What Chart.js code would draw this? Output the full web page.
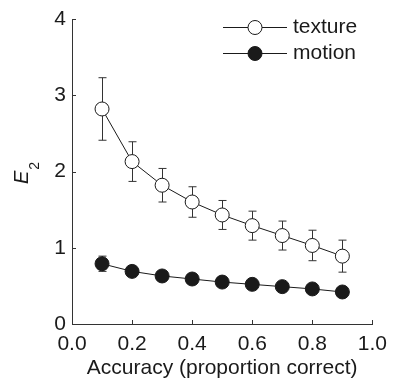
<!DOCTYPE html>
<html>
<head>
<meta charset="utf-8">
<script src="https://cdn.jsdelivr.net/npm/chart.js@4.4.0/dist/chart.umd.min.js"></script>
<style>
  html, body { margin: 0; padding: 0; background: #fff; }
  #wrap { width: 395px; height: 381px; }
</style>
</head>
<body>
<div id="wrap"><canvas id="mycanvas" width="395" height="381"></canvas></div>
<script>
// values
var accuracy = [0.1, 0.2, 0.3, 0.4, 0.5, 0.6, 0.7, 0.8, 0.9];
var texture = [2.82, 2.13, 1.82, 1.60, 1.43, 1.29, 1.16, 1.03, 0.89];
var textureErr = [0.41, 0.26, 0.22, 0.20, 0.19, 0.19, 0.19, 0.20, 0.21];
var motion = [0.79, 0.69, 0.63, 0.59, 0.55, 0.52, 0.49, 0.46, 0.42];
var motionErr = [0.10, 0.05, 0.03, 0.03, 0.03, 0.03, 0.03, 0.03, 0.03];
var xTicks = [0, 0.2, 0.4, 0.6, 0.8, 1.0];
var yTicks = [0, 1, 2, 3, 4];

var ink = '#1a1a1a';
var font = '"Liberation Sans", Arial, Helvetica, sans-serif';

function pts(ys) {
	var out = [];
	for (var i in accuracy) out.push({x: accuracy[i], y: ys[i]});
	return out;
}

// error bars, inward ticks, y title and legend
var extras = {
	id: 'extras',
	beforeDatasetsDraw: function(chart) {
		var ctx = chart.ctx, xs = chart.scales.x, ys = chart.scales.y;
		var sets = [[texture, textureErr], [motion, motionErr]];
		ctx.save();
		ctx.strokeStyle = '#333';
		ctx.lineWidth = 1;
		sets.forEach(function(s) {
			for (var i = 0; i < accuracy.length; i++) {
				var px = Math.round(xs.getPixelForValue(accuracy[i])) + 0.5;
				var top = ys.getPixelForValue(s[0][i] + s[1][i]);
				var bot = ys.getPixelForValue(s[0][i] - s[1][i]);
				ctx.beginPath();
				ctx.moveTo(px, top); ctx.lineTo(px, bot);
				ctx.moveTo(px - 4, top); ctx.lineTo(px + 4, top);
				ctx.moveTo(px - 4, bot); ctx.lineTo(px + 4, bot);
				ctx.stroke();
			}
		});
		ctx.restore();
	},
	afterDraw: function(chart) {
		var ctx = chart.ctx, xs = chart.scales.x, ys = chart.scales.y;
		var a = chart.chartArea;
		ctx.save();
		ctx.strokeStyle = '#333';
		ctx.lineWidth = 1;
		ctx.beginPath();
		xTicks.forEach(function(v) {
			var px = Math.round(xs.getPixelForValue(v)) + 0.5;
			ctx.moveTo(px, a.bottom); ctx.lineTo(px, a.bottom - 4);
		});
		yTicks.forEach(function(v) {
			var py = Math.round(ys.getPixelForValue(v)) + 0.5;
			ctx.moveTo(a.left, py); ctx.lineTo(a.left + 4, py);
		});
		ctx.stroke();

		// y title: italic E with subscript 2
		ctx.fillStyle = ink;
		ctx.translate(28, 184);
		ctx.rotate(-Math.PI / 2);
		ctx.textBaseline = 'alphabetic';
		ctx.textAlign = 'left';
		ctx.font = 'italic 20px ' + font;
		ctx.fillText('E', 0, 0);
		var w = ctx.measureText('E').width;
		ctx.font = '14px ' + font;
		ctx.fillText('2', w + 1, 11);
		ctx.setTransform(1, 0, 0, 1, 0, 0);

		// legend
		var rows = [['texture', '#fff', 27], ['motion', ink, 53]];
		rows.forEach(function(r) {
			ctx.strokeStyle = ink;
			ctx.lineWidth = 1;
			ctx.beginPath();
			ctx.moveTo(223, r[2] + 0.5); ctx.lineTo(287, r[2] + 0.5);
			ctx.stroke();
			ctx.beginPath();
			ctx.arc(255, r[2] + 0.5, 7, 0, Math.PI * 2);
			ctx.fillStyle = r[1];
			ctx.fill();
			ctx.stroke();
			ctx.fillStyle = ink;
			ctx.font = '21px ' + font;
			ctx.textBaseline = 'middle';
			ctx.fillText(r[0], 293, r[2]);
		});
		ctx.restore();
	}
};

var ctx = document.getElementById('mycanvas');

var chartdata = {
	datasets: [
		{
			label: 'texture',
			data: pts(texture),
			borderColor: ink,
			borderWidth: 1,
			backgroundColor: '#fff',
			pointBackgroundColor: '#fff',
			pointBorderColor: ink,
			pointBorderWidth: 1,
			pointRadius: 7,
			fill: false
		},
		{
			label: 'motion',
			data: pts(motion),
			borderColor: ink,
			borderWidth: 1,
			backgroundColor: ink,
			pointBackgroundColor: ink,
			pointBorderColor: ink,
			pointBorderWidth: 1,
			pointRadius: 7,
			fill: false
		}
	]
};

var chart = new Chart(ctx, {
	type: 'line',
	data: chartdata,
	plugins: [extras],
	options: {
		responsive: false,
		animation: false,
		layout: { padding: { top: 19, right: 17, left: 0, bottom: 0 } },
		plugins: { legend: { display: false }, tooltip: { enabled: false } },
		scales: {
			x: {
				type: 'linear',
				min: 0, max: 1,
				afterFit: function(s) { s.height = 57; },
				afterBuildTicks: function(s) { s.ticks = xTicks.map(function(v) { return {value: v}; }); },
				grid: { display: false, drawTicks: false },
				border: { display: true, color: '#333', width: 1 },
				ticks: {
					color: ink, padding: 8,
					font: { family: font, size: 21 },
					callback: function(v) { return v.toFixed(1); },
					maxRotation: 0
				},
				title: {
					display: true, text: 'Accuracy (proportion correct)', color: ink,
					font: { family: font, size: 21 }, padding: { top: 0, bottom: 0 }
				}
			},
			y: {
				min: 0, max: 4,
				afterFit: function(s) { s.width = 72; },
				afterBuildTicks: function(s) { s.ticks = yTicks.map(function(v) { return {value: v}; }); },
				grid: { display: false, drawTicks: false },
				border: { display: true, color: '#333', width: 1 },
				ticks: {
					color: ink, padding: 6,
					font: { family: font, size: 21 }
				}
			}
		}
	}
});
</script>
</body>
</html>
